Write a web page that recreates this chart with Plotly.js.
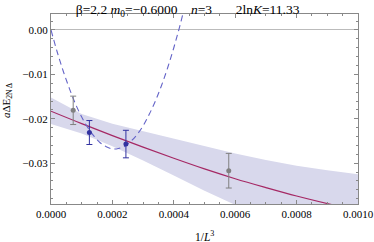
<!DOCTYPE html>
<html><head><meta charset="utf-8">
<script src="https://cdn.plot.ly/plotly-3.0.1.min.js"></script>
<style>html,body{margin:0;padding:0;background:#fff;}#c{width:374px;height:242px;}</style>
</head><body><div id="c"></div>
<script>
// Gray data points (not in fit)
const grayX = [0.0000723, 0.000579];
const grayY = [-0.0181, -0.0317];
const grayErr = [0.0032, 0.0039];
// Blue data points (in fit)
const blueX = [0.000125, 0.000244];
const blueY = [-0.0231, -0.0257];
const blueErr = [0.0027, 0.0031];
// Fit line
const fitX = [0, 0.0001, 0.0002, 0.0003, 0.0004, 0.0005, 0.0006, 0.0007, 0.0008, 0.0009, 0.001];
const fitY = [-0.0183, -0.0211, -0.0238, -0.0264, -0.0289, -0.0313, -0.0335, -0.0355, -0.0374, -0.0391, -0.0407];
// Confidence band edges
const bandUpper = [-0.0152, -0.0189, -0.0211, -0.0228, -0.0244, -0.0261, -0.0278, -0.0293, -0.0306, -0.0316, -0.0325];
const bandLower = [-0.0212, -0.0233, -0.0262, -0.0294, -0.0328, -0.0362, -0.0394, -0.0428, -0.0464, -0.0502, -0.0542];
// Dashed curve
const dashX = [0, 0.00002, 0.00004, 0.00006, 0.00008, 0.0001, 0.00012, 0.00014, 0.00016, 0.00018, 0.0002, 0.00022, 0.00024, 0.00026, 0.00028, 0.0003, 0.00032, 0.00034, 0.00036, 0.00038, 0.0004, 0.00042, 0.00044];
const dashY = [0.0000, -0.0049, -0.0093, -0.0132, -0.0167, -0.0196, -0.0220, -0.0239, -0.0254, -0.0263, -0.0268, -0.0267, -0.0262, -0.0251, -0.0236, -0.0216, -0.0190, -0.0160, -0.0125, -0.0085, -0.0040, 0.0010, 0.0065];

const titleText = "β=2.2 <i>m</i><sub>0</sub>=−0.6000\u2002\u2002<i>n</i>=3\u2002\u2002\u2002\u00a02ln<i>K</i>=11.33";
const xTitle = "1/<i>L</i><sup>3</sup>";
const yTitle = "<i>a</i>ΔE<sub>2N\u2009Δ</sub>";

const serif = "Liberation Serif, Times New Roman, serif";
const traces = [
  {x: fitX, y: bandLower, mode: 'lines', line: {width: 0, color: 'rgba(0,0,0,0)'}, hoverinfo: 'skip', showlegend: false},
  {x: fitX, y: bandUpper, mode: 'lines', line: {width: 0, color: 'rgba(0,0,0,0)'}, fill: 'tonexty', fillcolor: 'rgb(216,216,236)', showlegend: false},
  {x: fitX, y: fitY, mode: 'lines', line: {color: 'rgb(165,40,100)', width: 1.2, shape: 'spline'}, showlegend: false},
  {x: dashX, y: dashY, mode: 'lines', line: {color: 'rgb(100,100,200)', width: 1.1, dash: '6px,4px', shape: 'spline'}, showlegend: false},
  {x: grayX, y: grayY, mode: 'markers', marker: {color: 'rgb(128,128,128)', size: 5},
   error_y: {type: 'data', array: grayErr, visible: true, color: 'rgb(128,128,128)', thickness: 1, width: 3}, showlegend: false},
  {x: blueX, y: blueY, mode: 'markers', marker: {color: 'rgb(50,50,160)', size: 5},
   error_y: {type: 'data', array: blueErr, visible: true, color: 'rgb(50,50,160)', thickness: 1, width: 3}, showlegend: false}
];
const axCommon = {
  showgrid: false, ticks: 'inside', mirror: 'allticks', showline: true, linecolor: '#888', linewidth: 1,
  tickcolor: '#888', ticklen: 4, tickwidth: 1, tickfont: {family: serif, size: 11, color: '#000'}
};
const layout = {
  width: 374, height: 242,
  margin: {l: 51, r: 16, t: 14, b: 38, pad: 0},
  paper_bgcolor: '#fff', plot_bgcolor: '#fff',
  font: {family: serif, size: 11, color: '#000'},
  title: {text: titleText, font: {family: serif, size: 13.5, color: '#000'}, xref: 'paper', x: 0.081, xanchor: 'left', yref: 'container', y: 0.962, yanchor: 'middle'},
  xaxis: Object.assign({}, axCommon, {range: [0, 0.001], dtick: 0.0002, tick0: 0, tickformat: '.4f', zeroline: false,
    minor: {dtick: 0.00005, ticks: 'inside', ticklen: 2, tickcolor: '#888', showgrid: false}}),
  yaxis: Object.assign({}, axCommon, {range: [-0.0392, 0.0036], dtick: 0.01, tick0: 0, tickformat: '.2f',
    zeroline: true, zerolinecolor: '#bbb', zerolinewidth: 1,
    minor: {dtick: 0.002, ticks: 'inside', ticklen: 2, tickcolor: '#888', showgrid: false}}),
  annotations: [
    {text: xTitle, xref: 'paper', yref: 'paper', x: 0.5, y: -0.168, xanchor: 'center', yanchor: 'middle', showarrow: false, font: {family: serif, size: 11.5, color: '#000'}},
    {text: yTitle, xref: 'paper', yref: 'paper', x: -0.143, y: 0.542, xanchor: 'center', yanchor: 'middle', textangle: -90, showarrow: false, font: {family: serif, size: 11, color: '#000'}}
  ]
};
Plotly.newPlot('c', traces, layout, {staticPlot: true, displayModeBar: false});
</script></body></html>
